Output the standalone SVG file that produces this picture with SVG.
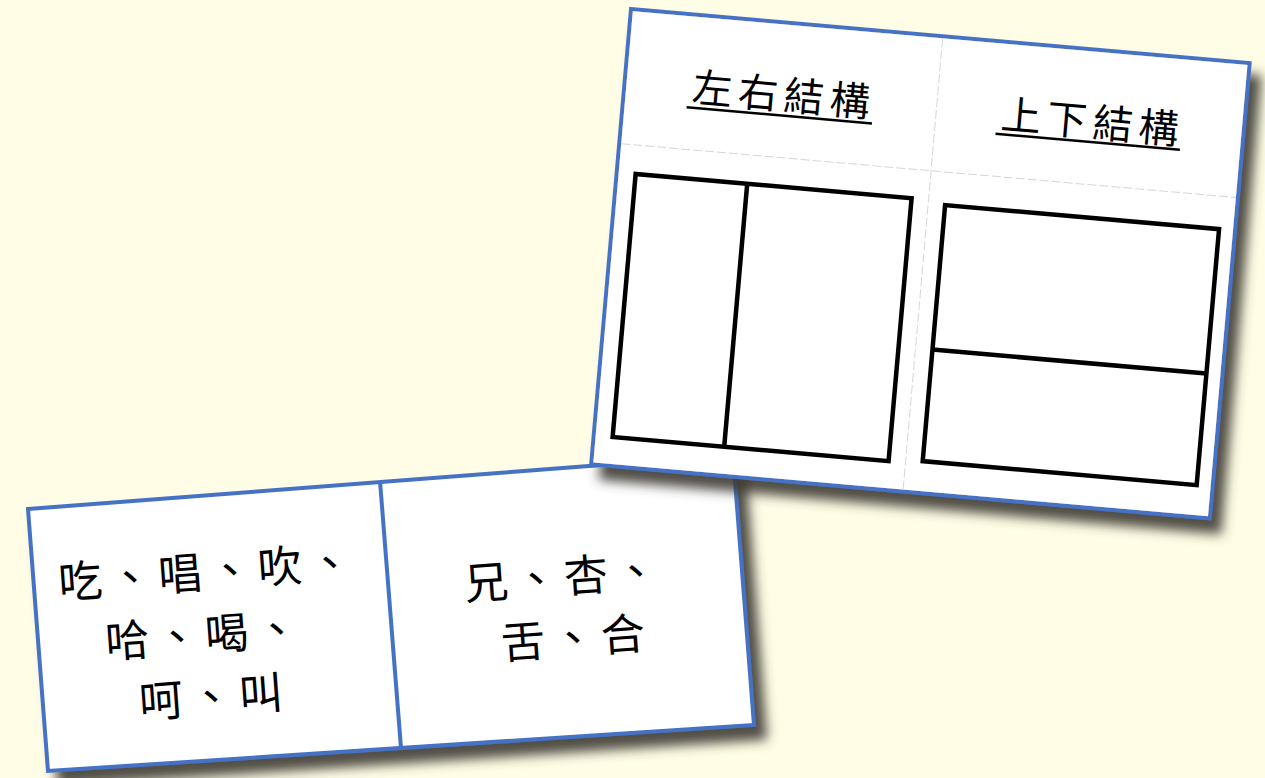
<svg xmlns="http://www.w3.org/2000/svg" width="1265" height="778" viewBox="0 0 1265 778">
<defs>
<filter id="shadow" x="-10%" y="-10%" width="130%" height="130%">
<feDropShadow dx="11" dy="13" stdDeviation="6" flood-color="#3e3a35" flood-opacity="0.9"/>
</filter>
</defs>
<style>
.card{fill:#ffffff;stroke:#4472c4;stroke-width:4;stroke-linejoin:miter}
.blue{stroke:#4472c4;stroke-width:4;fill:none}
.grid{stroke:#d6d6d6;stroke-width:1;stroke-dasharray:9 3;fill:none}
.box{fill:none;stroke:#000;stroke-width:4.5;stroke-linejoin:miter}
.ul{stroke:#000;stroke-width:2.5}
.hd{font-family:"Noto Sans CJK TC","Noto Sans CJK SC",sans-serif;font-size:40px;letter-spacing:6px;text-anchor:middle;fill:#000}
.wd{font-family:"Noto Sans CJK TC","Noto Sans CJK SC",sans-serif;font-size:44px;letter-spacing:6px;text-anchor:middle;fill:#000}
</style>
<rect x="0" y="0" width="1265" height="778" fill="#fffde5"/>

<g id="card-examples">
<polygon class="card" filter="url(#shadow)" points="28,509 733,455 754,725 48,771"/>
<line class="blue" x1="380" y1="481" x2="401" y2="748"/>
<g transform="translate(205,572) rotate(-4.2)"><text class="wd" x="3" y="16">吃、唱、吹、</text></g>
<g transform="translate(202,635) rotate(-4.2)"><text class="wd" x="3" y="16">哈、喝、</text></g>
<g transform="translate(211,697) rotate(-4.2)"><text class="wd" x="3" y="16">呵、叫</text></g>
<g transform="translate(561,577) rotate(-4.2)"><text class="wd" x="3" y="16">兄、杏、</text></g>
<g transform="translate(573,638) rotate(-4.2)"><text class="wd" x="3" y="16">舌、合</text></g>
</g>

<g id="card-structures" transform="translate(631,9) rotate(5)">
<rect class="card" filter="url(#shadow)" x="0" y="0" width="621" height="457"/>
<line class="grid" x1="313" y1="2" x2="313" y2="455"/>
<line class="grid" x1="2" y1="135" x2="619" y2="135"/>
<g id="header-left">
<text class="hd" x="160" y="87">左右結構</text>
<line class="ul" x1="64" y1="93" x2="250" y2="93"/>
</g>
<g id="header-right">
<text class="hd" x="470" y="87">上下結構</text>
<line class="ul" x1="374" y1="92.5" x2="559" y2="92.5"/>
</g>
<g id="diagram-left-right">
<rect class="box" x="19" y="164" width="277" height="264"/>
<line class="box" x1="131" y1="164" x2="131" y2="428"/>
</g>
<g id="diagram-top-bottom">
<rect class="box" x="330" y="168" width="275" height="257"/>
<line class="box" x1="330" y1="313" x2="605" y2="313"/>
</g>
</g>
</svg>
